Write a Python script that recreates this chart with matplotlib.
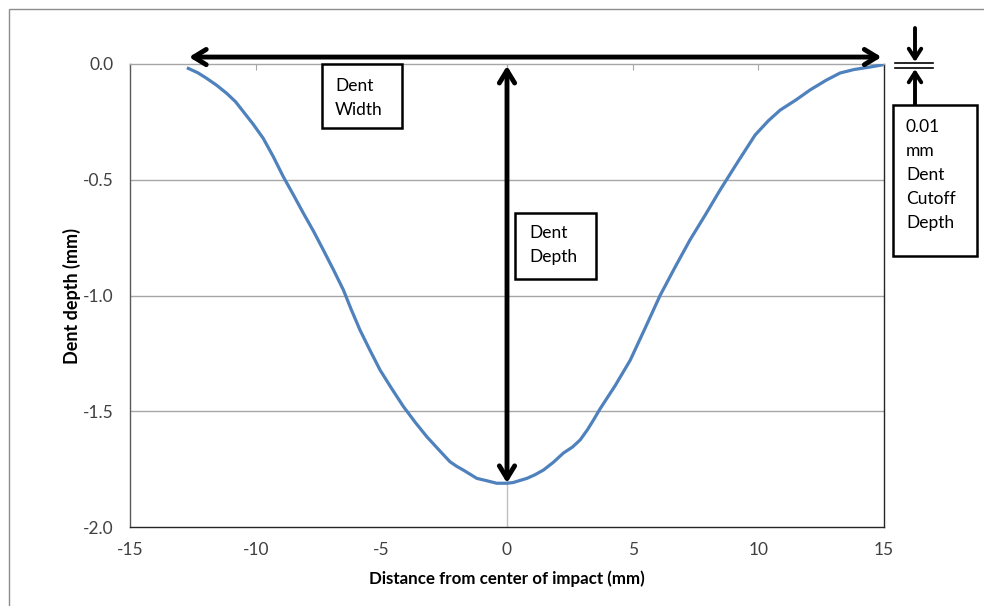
import matplotlib.pyplot as plt
from matplotlib.patches import Rectangle

plt.rcParams['font.family'] = ['Lato', 'DejaVu Sans']

# profile
dist_mm = [-12.68, -12.30, -11.95, -11.55, -11.15, -10.80, -10.49, -10.10, -9.70, -9.30,
           -8.90, -8.50, -8.10, -7.70, -7.31, -6.90, -6.51, -6.20, -5.85, -5.45,
           -5.05, -4.60, -4.12, -3.65, -3.19, -2.70, -2.27, -2.00, -1.74, -1.20,
           -0.81, -0.41, 0.0, 0.24, 0.79, 1.10, 1.45, 1.85, 2.25, 2.60,
           2.91, 3.20, 3.44, 3.70, 4.30, 4.90, 5.50, 6.09, 6.70, 7.28,
           7.90, 8.48, 9.20, 9.87, 10.40, 10.87, 11.50, 12.06, 12.70, 13.25,
           13.80, 14.45, 14.92]
depth_mm = [-0.019, -0.038, -0.062, -0.092, -0.127, -0.163, -0.206, -0.260, -0.321, -0.400,
            -0.487, -0.565, -0.645, -0.722, -0.803, -0.890, -0.976, -1.060, -1.149, -1.237,
            -1.322, -1.400, -1.480, -1.548, -1.610, -1.668, -1.718, -1.738, -1.754, -1.790,
            -1.800, -1.811, -1.811, -1.808, -1.790, -1.775, -1.754, -1.720, -1.680, -1.655,
            -1.624, -1.580, -1.538, -1.490, -1.390, -1.280, -1.140, -1.000, -0.875, -0.760,
            -0.650, -0.544, -0.420, -0.307, -0.245, -0.199, -0.155, -0.112, -0.070, -0.039,
            -0.024, -0.013, -0.004]
xticks = [-15, -10, -5, 0, 5, 10, 15]
yticks = [0.0, -0.5, -1.0, -1.5, -2.0]

W, H = 984, 606
fig = plt.figure(figsize=(W / 100, H / 100), dpi=100)
ax = fig.add_axes([130 / W, 1 - 527 / H, (884 - 130) / W, (527 - 64) / H])

def fx(px):
    return px / W

def fy(py):
    return 1 - py / H

# outer chart border
fig.patches.append(Rectangle((fx(9), -0.1), 1.2, fy(9) + 0.1, transform=fig.transFigure,
                             fill=False, edgecolor='#8c8c8c', lw=1))

ax.set_xlim(-15, 15)
ax.set_ylim(-2.0, 0.0)
for y in yticks[1:-1]:
    ax.axhline(y, color='#a6a6a6', lw=1, zorder=0)
ax.axvline(0, color='#c0c0c0', lw=1, zorder=0)

ax.plot(dist_mm, depth_mm, color='#4f81bd', lw=2.3, zorder=3, solid_joinstyle='round')

ax.spines['top'].set_color('#a6a6a6')
ax.spines['left'].set_color('#595959')
ax.spines['bottom'].set_color('#262626')
ax.spines['right'].set_color('#262626')
for s in ax.spines.values():
    s.set_linewidth(1)

ax.set_xticks(xticks)
ax.set_yticks(yticks)
ax.set_xticklabels([str(t) for t in xticks])
ax.set_yticklabels(['%.1f' % t for t in yticks])
ax.tick_params(axis='x', bottom=False, top=True, labelbottom=True, labeltop=False,
               direction='in', length=4, color='#a6a6a6', pad=11, labelsize=12.5,
               labelcolor='#404040')
ax.tick_params(axis='y', length=0, pad=12, labelsize=12.5, labelcolor='#404040')
ax.set_xlabel('Distance from center of impact (mm)', fontsize=12.2, fontweight='bold',
              labelpad=9)
ax.set_ylabel('Dent depth (mm)', fontsize=13, fontweight='bold', labelpad=1)

# width and depth arrows
arrow = dict(arrowstyle='<->,head_length=0.9,head_width=0.55', lw=3.5, color='black',
             shrinkA=0, shrinkB=0)
ax.annotate('', xy=(-12.65, 0.03), xytext=(14.9, 0.03), arrowprops=arrow,
            annotation_clip=False)
ax.annotate('', xy=(0, -0.008), xytext=(0, -1.81), arrowprops=arrow,
            annotation_clip=False)

# cutoff depth marker
fig.add_artist(plt.Line2D([fx(895), fx(933)], [fy(63), fy(63)], color='black', lw=1.2))
fig.add_artist(plt.Line2D([fx(895), fx(933)], [fy(68), fy(68)], color='black', lw=1.2))
one = dict(arrowstyle='->,head_length=0.7,head_width=0.45', lw=2.8, color='black',
           shrinkA=0, shrinkB=0)
fig.add_artist(plt.Annotation('', xy=(fx(915), fy(62)), xytext=(fx(915), fy(28)),
                              xycoords='figure fraction', arrowprops=one))
fig.add_artist(plt.Annotation('', xy=(fx(915), fy(69)), xytext=(fx(915), fy(105)),
                              xycoords='figure fraction', arrowprops=one))

# label boxes
def box(x0, y0, x1, y1, lines, tx, ty):
    fig.patches.append(Rectangle((fx(x0), fy(y1)), fx(x1) - fx(x0), fy(y0) - fy(y1),
                                 transform=fig.transFigure, facecolor='white',
                                 edgecolor='black', lw=1.8, zorder=5))
    for i, t in enumerate(lines):
        fig.text(fx(tx), fy(ty + 24 * i), t, fontsize=12.5, ha='left', va='center',
                 color='black', zorder=6)

box(322, 64, 402, 128, ['Dent', 'Width'], 335, 86)
box(515, 213, 596, 279, ['Dent', 'Depth'], 529, 233)
box(893, 105, 977, 256, ['0.01', 'mm', 'Dent', 'Cutoff', 'Depth'], 906, 127)

fig.savefig('out.png', dpi=100)
